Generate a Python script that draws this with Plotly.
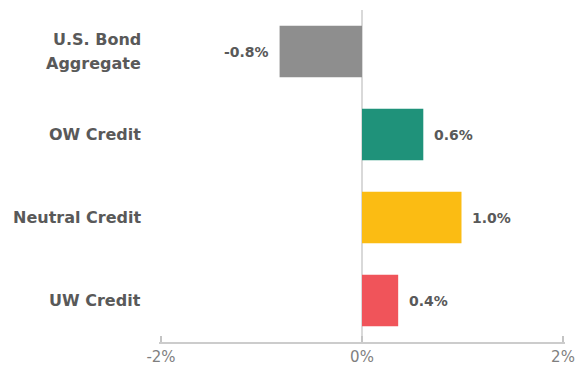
import plotly.graph_objects as go

categories = ["U.S. Bond Aggregate", "OW Credit", "Neutral Credit", "UW Credit"]
category_lines = [["U.S. Bond", "Aggregate"], ["OW Credit"], ["Neutral Credit"], ["UW Credit"]]
values = [-0.82, 0.61, 0.99, 0.36]
labels = ["-0.8%", "0.6%", "1.0%", "0.4%"]
colors = ["#8e8e8e", "#1f927a", "#fbbc13", "#f0545a"]
tick_vals = [-2, 0, 2]
tick_text = ["-2%", "0%", "2%"]

FONT = "DejaVu Sans"

fig = go.Figure()
fig.add_trace(go.Bar(
    x=values, y=categories, orientation="h",
    marker=dict(color=colors, line=dict(width=0)),
    hoverinfo="skip",
))

for c, v, t in zip(categories, values, labels):
    fig.add_annotation(
        x=v, y=c, text="<b>%s</b>" % t, showarrow=False,
        xanchor="left" if v >= 0 else "right",
        xshift=9 if v >= 0 else -9,
        font=dict(family=FONT, size=14, color="#595959"),
    )

for c, lines in zip(categories, category_lines):
    n = len(lines)
    for i, line in enumerate(lines):
        fig.add_annotation(
            x=0, xref="paper", y=c, yref="y",
            text="<b>%s</b>" % line, showarrow=False,
            xanchor="right", xshift=-16,
            yshift=(n - 1) * 12 - i * 24,
            font=dict(family=FONT, size=16, color="#595959"),
        )

fig.update_layout(
    width=575, height=375,
    margin=dict(l=159, r=10, t=10, b=33),
    plot_bgcolor="white", paper_bgcolor="white",
    showlegend=False,
    bargap=0.38,
    xaxis=dict(
        range=[-2.02, 2.02], tickvals=tick_vals, ticktext=tick_text,
        automargin=False,
        showgrid=False, zeroline=True, zerolinecolor="#d9d9d9", zerolinewidth=2,
        showline=True, linecolor="#cccccc", linewidth=1.5,
        ticks="inside", ticklen=6, tickcolor="#c4c4c4", tickwidth=1.5,
        tickfont=dict(family=FONT, size=15, color="#7f7f7f"),
        fixedrange=True,
    ),
    yaxis=dict(
        autorange="reversed", showgrid=False, showline=False, zeroline=False,
        automargin=False, showticklabels=False,
        ticks="",
        fixedrange=True,
    ),
)

fig.write_html("out.html")
